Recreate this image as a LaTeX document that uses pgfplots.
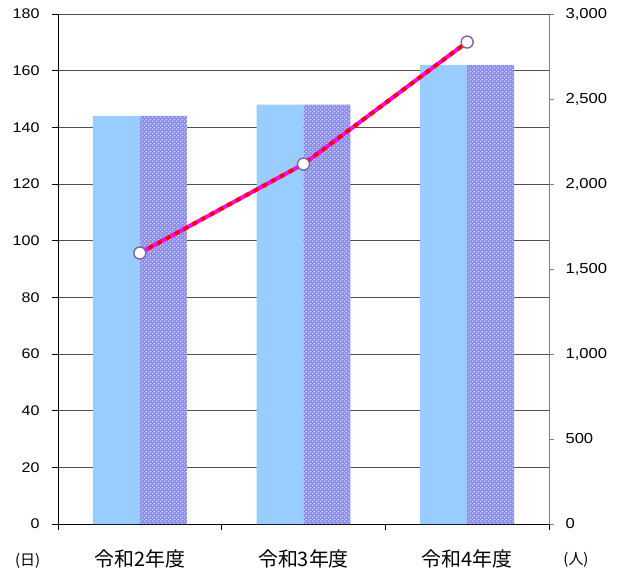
\documentclass[border=0pt]{standalone}
\usepackage{pgfplots}
\pgfplotsset{compat=1.18}
\usetikzlibrary{patterns}
\usepackage{fontspec}
\setmainfont{Liberation Sans}
\newfontfamily\tickfont[FakeStretch=1.15]{Liberation Sans}
\newfontfamily\cjk{Noto Sans CJK JP}

\definecolor{barblue}{RGB}{153,204,255}
\definecolor{barpurple}{RGB}{140,140,245}
\definecolor{linemag}{RGB}{255,0,255}
\definecolor{markpurple}{RGB}{128,100,162}
\definecolor{gridgray}{RGB}{80,80,80}
\definecolor{axgray}{RGB}{128,128,128}

% white dots on the second bar series
\pgfdeclarepatternformonly{bardots}{\pgfpointorigin}{\pgfqpoint{4bp}{4bp}}{\pgfqpoint{4bp}{4bp}}{%
  \pgfpathcircle{\pgfqpoint{1bp}{1bp}}{0.9bp}%
  \pgfpathcircle{\pgfqpoint{3bp}{3bp}}{0.9bp}%
  \pgfusepath{fill}}

\begin{document}
\begin{tikzpicture}
\begin{axis}[
    scale only axis,
    width=491bp, height=510bp,
    xmin=-0.5, xmax=2.5,
    ymin=0, ymax=180,
    ytick={0,20,...,180},
    ymajorgrids,
    grid style={gridgray, line width=0.8pt},
    axis x line*=bottom,
    axis y line*=left,
    axis line style={black, line width=0.9pt},
    xtick={-0.5,0.5,1.5,2.5},
    x tick label as interval,
    xticklabels={令和2年度,令和3年度,令和4年度},
    xticklabel style={font=\cjk\fontsize{20}{20}\selectfont, yshift=-16bp},
    x tick style={black, line width=0.9pt},
    xtick align=outside,
    major tick length=6bp,
    yticklabel style={font=\tickfont\fontsize{14}{14}\selectfont, xshift=-9bp},
    ytick style={black, line width=0.9pt},
    ytick align=outside,
    /pgf/number format/assume math mode=true,
    clip=false,
]
\addplot[ybar, bar width=0.287, bar shift=-0.1435, fill=barblue, draw=none] coordinates {
    (0,144) (1,148) (2,162)
};
\addplot[ybar, bar width=0.287, bar shift=0.1435, fill=barpurple, draw=none,
    postaction={pattern=bardots, pattern color=white!75!barpurple}] coordinates {
    (0,144) (1,148) (2,162)
};
\node[font=\cjk\fontsize{15}{15}\selectfont] at (rel axis cs:-0.062,-0.072) {(日)};
\node[font=\cjk\fontsize{15}{15}\selectfont] at (rel axis cs:1.055,-0.071) {(人)};
\end{axis}
\begin{axis}[
    scale only axis,
    width=491bp, height=510bp,
    xmin=-0.5, xmax=2.5,
    ymin=0, ymax=3000,
    ytick={0,500,...,3000},
    axis y line*=right,
    axis x line=none,
    axis line style={axgray, line width=0.9pt},
    ytick style={axgray, line width=0.9pt},
    tick align=outside,
    major tick length=5bp,
    yticklabel style={font=\tickfont\fontsize{14.5}{14.5}\selectfont, xshift=8bp},
    /pgf/number format/assume math mode=true,
    /pgf/number format/1000 sep={,},
    scaled y ticks=false,
]
\addplot[linemag, line width=4pt] coordinates {
    (0,1594) (1,2117) (2,2835)
};
\addplot[red, line width=4pt, dash pattern=on 5pt off 5pt] coordinates {
    (0,1594) (1,2117) (2,2835)
};
\addplot[only marks, mark=*, mark size=6bp, mark options={fill=white, draw=markpurple, line width=1.4pt}] coordinates {
    (0,1594) (1,2117) (2,2835)
};
\end{axis}
\pgfresetboundingbox
\path (-58bp,-46bp) rectangle (570bp,524bp);
\end{tikzpicture}
\end{document}
